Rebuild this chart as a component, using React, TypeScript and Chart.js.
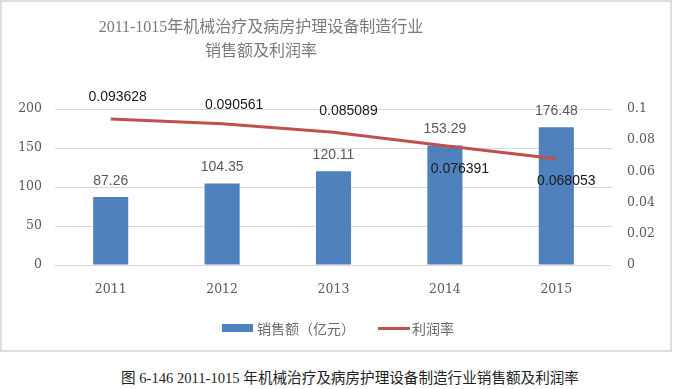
import React, { useEffect, useRef } from "react";
import { Chart, registerables } from "chart.js";

Chart.register(...registerables);

const years = ["2011", "2012", "2013", "2014", "2015"];
const salesValues = [87.26, 104.35, 120.11, 153.29, 176.48];
const profitRates = [0.093628, 0.090561, 0.085089, 0.076391, 0.068053];
const salesLabel = "销售额（亿元）";
const profitLabel = "利润率";
const titleLines = ["2011-1015年机械治疗及病房护理设备制造行业", "销售额及利润率"];
const caption = "图 6-146 2011-1015 年机械治疗及病房护理设备制造行业销售额及利润率";

// label placement offsets (style only)
const rateLabelOffsets: [number, number][] = [
  [7, -22],
  [12, -19],
  [15, -21],
  [15, 23],
  [10, 22],
];

const BLUE = "#4f81bd";
const RED = "#c0504d";
const GRAY = "#595959";

const labelPlugin = {
  id: "valueLabels",
  afterDatasetsDraw(chart: any) {
    const ctx = chart.ctx;
    ctx.save();
    ctx.textAlign = "center";
    ctx.textBaseline = "middle";
    ctx.font = '14px "Liberation Sans", sans-serif';
    chart.data.datasets.forEach((ds: any, i: number) => {
      const meta = chart.getDatasetMeta(i);
      meta.data.forEach((el: any, j: number) => {
        const v = ds.data[j];
        if (ds.type === "bar") {
          ctx.fillStyle = GRAY;
          ctx.fillText(String(v), el.x, el.y - 16);
        } else {
          const [dx, dy] = rateLabelOffsets[j];
          ctx.fillStyle = "#1a1a1a";
          ctx.fillText(String(v), el.x + dx, el.y + dy);
        }
      });
    });
    ctx.restore();
  },
};

export default function App() {
  const ref = useRef<HTMLCanvasElement>(null);
  useEffect(() => {
    document.body.style.margin = "0";
    const chart = new Chart(ref.current!, {
      type: "bar",
      data: {
        labels: years,
        datasets: [
          {
            type: "line",
            label: profitLabel,
            data: profitRates,
            yAxisID: "y1",
            borderColor: RED,
            backgroundColor: RED,
            borderWidth: 3,
            pointRadius: 0,
            tension: 0,
            order: 0,
          } as any,
          {
            type: "bar",
            label: salesLabel,
            data: salesValues,
            yAxisID: "y",
            backgroundColor: BLUE,
            categoryPercentage: 1,
            barPercentage: 0.315,
            order: 1,
          },
        ],
      },
      options: {
        animation: false,
        responsive: false,
        maintainAspectRatio: false,
        layout: { padding: { top: 109, left: 0, right: 0, bottom: 0 } },
        plugins: {
          legend: { display: false },
          title: { display: false },
          tooltip: { enabled: false },
        },
        scales: {
          x: {
            grid: { display: false, drawTicks: false },
            border: { display: false },
            ticks: {
              color: GRAY,
              font: { family: '"DejaVu Serif", serif', size: 12.5 },
              padding: 17,
            },
            afterFit: (s: any) => {
              s.height = 87;
            },
          },
          y: {
            position: "left",
            min: 0,
            max: 200,
            grid: { color: "#d9d9d9", lineWidth: 1, drawTicks: false },
            border: { display: false },
            ticks: {
              stepSize: 50,
              color: GRAY,
              font: { family: '"DejaVu Serif", serif', size: 12.5 },
              padding: 13,
            },
            afterFit: (s: any) => {
              s.width = 55;
            },
          },
          y1: {
            position: "right",
            min: 0,
            max: 0.1,
            grid: { display: false, drawTicks: false },
            border: { display: false },
            ticks: {
              stepSize: 0.02,
              color: GRAY,
              font: { family: '"DejaVu Serif", serif', size: 12.5 },
              padding: 15,
              callback: (v: any) => String(Math.round(Number(v) * 100) / 100),
            },
            afterFit: (s: any) => {
              s.width = 61;
            },
          },
        },
      },
      plugins: [labelPlugin],
    });
    return () => chart.destroy();
  }, []);

  const cjk = '"Noto Sans CJK SC", sans-serif';
  return (
    <div style={{ position: "absolute", left: 0, top: 0, width: 673, height: 389, overflow: "hidden", background: "#fff" }}>
      <canvas ref={ref} width={673} height={352} style={{ position: "absolute", left: 0, top: 0, width: 673, height: 352 }} />
      <div
        style={{
          position: "absolute",
          left: 0,
          top: 0,
          width: 672,
          height: 352,
          border: "2px solid #dedede",
          boxSizing: "border-box",
          pointerEvents: "none",
        }}
      />
      <div
        style={{
          position: "absolute",
          left: 0,
          top: 15,
          width: 522,
          textAlign: "center",
          fontFamily: '"Liberation Serif", "Noto Sans CJK SC", serif',
          fontSize: 16,
          lineHeight: "24px",
          color: "#7a7a7a",
        }}
      >
        {titleLines.map((t) => (
          <div key={t}>{t}</div>
        ))}
      </div>
      <div style={{ position: "absolute", left: 222, top: 324, width: 31, height: 8, background: BLUE }} />
      <div style={{ position: "absolute", left: 257, top: 318, fontFamily: cjk, fontSize: 14, lineHeight: "20px", color: "#6a6a6a", whiteSpace: "nowrap" }}>
        {salesLabel}
      </div>
      <div style={{ position: "absolute", left: 378, top: 327, width: 32, height: 3, background: RED }} />
      <div style={{ position: "absolute", left: 412, top: 318, fontFamily: cjk, fontSize: 14, lineHeight: "20px", color: "#6a6a6a", whiteSpace: "nowrap" }}>
        {profitLabel}
      </div>
      <div
        style={{
          position: "absolute",
          left: 100,
          top: 369,
          width: 500,
          textAlign: "center",
          fontFamily: '"Liberation Serif", "Noto Sans CJK SC", serif',
          fontSize: 14.6,
          lineHeight: "18px",
          color: "#222",
          whiteSpace: "nowrap",
        }}
      >
        {caption}
      </div>
    </div>
  );
}
